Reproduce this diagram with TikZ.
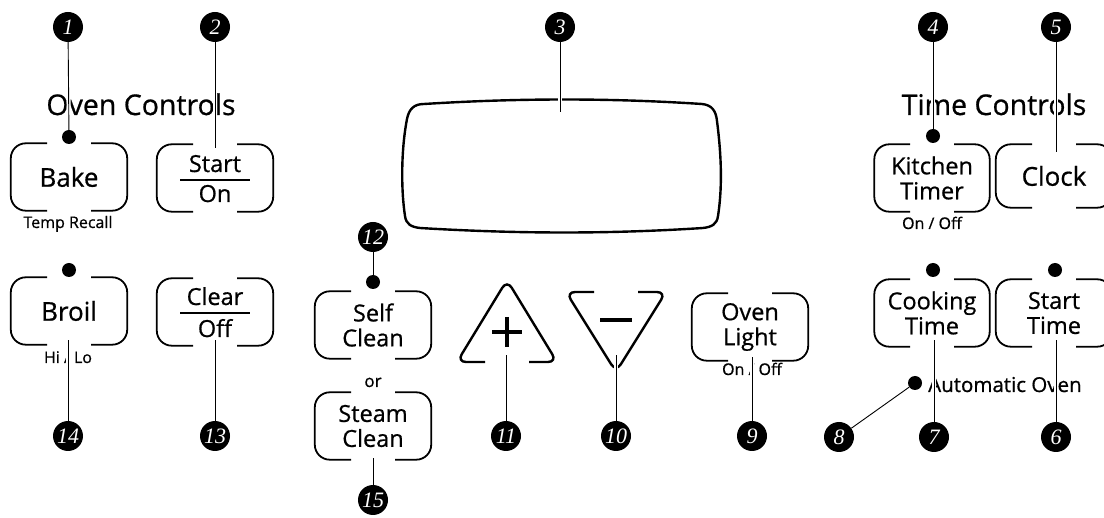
\documentclass[tikz,border=0pt]{standalone}
\usepackage{fontspec}
\setmainfont{Open Sans}[FakeBold=0.7]
\newfontfamily\numfont{Liberation Serif}
\usetikzlibrary{calc}
\pgfdeclarelayer{back}
\pgfdeclarelayer{mid}
\pgfsetlayers{back,mid,main}
\tikzset{
  btn/.style={rectangle, minimum width=116pt, minimum height=67pt, inner sep=0pt, align=center},
  big/.style={font=\fontsize{26}{28}\selectfont},
  two/.style={font=\fontsize{23.5}{25}\selectfont},
  small/.style={font=\fontsize{16}{18}\selectfont},
  mid/.style={font=\fontsize{20.5}{22}\selectfont},
  title/.style={font=\fontsize{28.5}{30}\selectfont},
  num/.style={circle, fill=black, minimum size=30pt, inner sep=0pt, text=white, font=\numfont\itshape\fontsize{22}{22}\selectfont},
  dot/.style={circle, fill=black, minimum size=14pt, inner sep=0pt},
  leader/.style={draw=black, line width=0.9pt, preaction={draw=white, line width=4pt}},
  btnline/.style={line width=1.8pt, rounded corners=15pt},
  bar/.style={line width=2.4pt},
  tri/.style={line width=2.4pt, rounded corners=9pt},
}
\newcommand{\brackets}[1]{%
  \draw[btnline] ($(#1.north)+(-22,0)$) -- (#1.north west) -- (#1.south west) -- ($(#1.south)+(-22,0)$);
  \draw[btnline] ($(#1.north)+(22,0)$) -- (#1.north east) -- (#1.south east) -- ($(#1.south)+(22,0)$);}
\begin{document}
\begin{tikzpicture}[x=1pt, y=-1pt]
\useasboundingbox (0,0) rectangle (1104,518);

% numbered circles and dots
\node[num] (n1) at (68,27) {1};
\node[num] (n2) at (215,27) {2};
\node[num] (n3) at (560,27) {3};
\node[num] (n4) at (933,27) {4};
\node[num] (n5) at (1056,27) {5};
\node[num] (n12) at (373,237) {12};
\node[num] (n14) at (68,436) {14};
\node[num] (n13) at (215,436) {13};
\node[num] (n11) at (506,436) {11};
\node[num] (n10) at (616,436) {10};
\node[num] (n9) at (752,436) {9};
\node[num] (n8) at (839,437) {8};
\node[num] (n7) at (934,437) {7};
\node[num] (n6) at (1056,437) {6};
\node[num] (n15) at (373,500) {15};

\node[dot] (d1) at (69,137) {};
\node[dot] (dbroil) at (69,270) {};
\node[dot] (d12) at (373,282) {};
\node[dot] (d4) at (933,136) {};
\node[dot] (dcook) at (933,270) {};
\node[dot] (dstart) at (1055,270) {};
\node[dot] (d8) at (915,383) {};

\begin{pgfonlayer}{back}
\fill[white] (0,0) rectangle (1104,518);
% titles
\node[title, anchor=base] (ovenctl) at (141,115) {Oven Controls};
\node[title, anchor=base] (timectl) at (994,115) {Time Controls};

% buttons
\node[btn, big] (bake) at (69,177) {Bake};
\node[btn] (starton) at (215,178) {};
\node[btn, big] (broil) at (69,311) {Broil};
\node[btn] (clearoff) at (215,312) {};
\node[btn, two] (selfclean) at (373,325) {Self\\Clean};
\node[btn, two] (steamclean) at (373,426) {Steam\\Clean};
\node[btn, two] (ovenlight) at (750,327) {Oven\\Light};
\node[btn, two, minimum width=115pt] (kitchen) at (932,178) {Kitchen\\Timer};
\node[btn, big] (clock) at (1054,176) {Clock};
\node[btn, two, minimum width=115pt] (cooking) at (932,313) {Cooking\\Time};
\node[btn, two] (starttime) at (1054,313) {Start\\Time};
\foreach \b in {bake,starton,broil,clearoff,selfclean,steamclean,ovenlight,kitchen,cooking,starttime}{\brackets{\b}}
\draw[btnline] ($(clock.north)+(-22,2)$) -- ($(clock.north west)+(0,2)$) -- ($(clock.south west)+(0,-2)$) -- ($(clock.south)+(-22,-2)$);
\draw[btnline] ($(clock.north)+(22,2)$) -- ($(clock.north east)+(0,2)$) -- ($(clock.south east)+(0,-2)$) -- ($(clock.south)+(22,-2)$);

% fraction labels
\node[two, anchor=base] (startlbl) at (215,172) {Start};
\draw[bar] (180,180) -- (250,180);
\node[two, anchor=base] (onlbl) at (215,202) {On};
\node[two, anchor=base] (clearlbl) at (215,305) {Clear};
\draw[bar] (180,313) -- (250,313);
\node[two, anchor=base] (offlbl) at (215,337) {Off};

% small labels
\node[small, anchor=base] (temprecall) at (68,228) {Temp Recall};
\node[small, anchor=base] (hilo) at (68,363) {Hi / Lo};
\node[small, anchor=base] (onoff1) at (932,229) {On / Off};
\node[small, anchor=base] (onoff2) at (752,375) {On / Off};
\node[small, anchor=base, font=\fontsize{17}{18}\selectfont] (orlbl) at (373,387) {or};
\node[mid, anchor=base west, inner sep=0pt] (auto) at (928,392) {Automatic Oven};

% display
\draw[line width=2.4pt] (424,104) .. controls (520,98) and (610,98) .. (702,104)
  .. controls (712,105) and (716,111) .. (717,121)
  .. controls (722,160) and (722,190) .. (718,216)
  .. controls (717,224) and (712,227) .. (703,228)
  .. controls (610,234) and (520,234) .. (420,228)
  .. controls (411,227) and (406,224) .. (405,216)
  .. controls (401,190) and (401,150) .. (407,119)
  .. controls (409,109) and (414,104) .. (424,104) -- cycle;

% plus / minus keys
\draw[tri] (485,362) -- (457,362) -- (507,280) -- (557,362) -- (529,362);
\draw[line width=3.8pt] (492,332) -- (522,332) (507,317) -- (507,347);
\draw[tri] (594,292) -- (566,292) -- (616,372) -- (666,292) -- (638,292);
\draw[line width=4pt] (600,320) -- (632,320);
\end{pgfonlayer}

% free ends
\coordinate (e2) at (215,148);
\coordinate (e3) at (560,112);
\coordinate (e5) at (1056,152);
\coordinate (e14) at (68,340);
\coordinate (e13) at (215,340);
\coordinate (e11) at (506,355);
\coordinate (e10) at (616,355);
\coordinate (e9) at (752,357);
\coordinate (e7) at (934,340);
\coordinate (e6) at (1056,340);
\coordinate (e15) at (373,458);

\begin{pgfonlayer}{mid}
\draw[leader] (n1) -- (d1);
\draw[leader] (n2) -- (e2);
\draw[leader] (n3) -- (e3);
\draw[leader] (n4) -- (d4);
\draw[leader] (n5) -- (e5);
\draw[leader] (n12) -- (d12);
\draw[leader] (n14) -- (e14);
\draw[leader] (n13) -- (e13);
\draw[leader] (n11) -- (e11);
\draw[leader] (n10) -- (e10);
\draw[leader] (n9) -- (e9);
\draw[leader] (n7) -- (e7);
\draw[leader] (n6) -- (e6);
\draw[leader] (n15) -- (e15);
\draw[leader] (n8) -- (d8);
\end{pgfonlayer}
\end{tikzpicture}
\end{document}
